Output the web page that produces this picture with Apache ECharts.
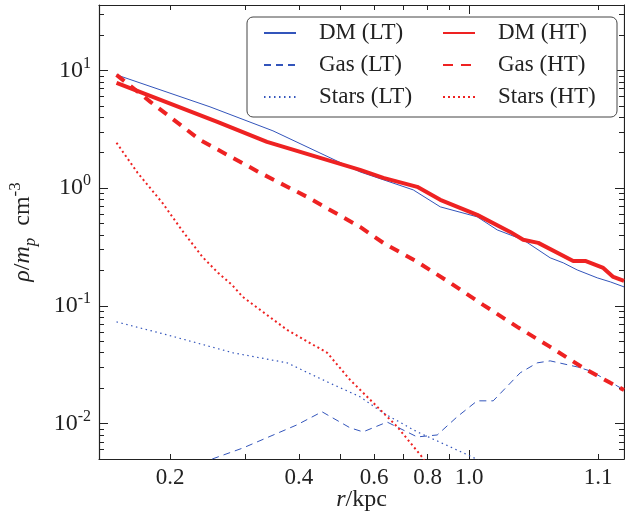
<!DOCTYPE html>
<html>
<head>
<meta charset="utf-8">
<script src="https://cdn.jsdelivr.net/npm/echarts@6/dist/echarts.min.js"></script>
<style>
    html, body { margin: 0; padding: 0; background: #fff; }
    #chart { width: 625px; height: 513px; }
</style>
</head>
<body>
<div id="chart"></div>
<script>
    // radius r (kpc), density rho / m_p cm^-3
    var dmLT = [[0.15, 9.18], [0.248, 4.91], [0.348, 3.07], [0.556, 1.375], [0.74, 0.967], [0.856, 0.694],
        [1.044, 0.571], [1.163, 0.442], [1.337, 0.364], [1.546, 0.256], [1.659, 0.232], [1.788, 0.202],
        [1.992, 0.173], [2.136, 0.160], [2.3, 0.145]];
    var gasLT = [[0.251, 0.005], [0.296, 0.0062], [0.396, 0.00975], [0.453, 0.0126], [0.527, 0.0092],
        [0.565, 0.0085], [0.643, 0.0103], [0.756, 0.0077], [0.842, 0.0080], [0.937, 0.0114], [1.044, 0.0156],
        [1.138, 0.0156], [1.316, 0.027], [1.442, 0.0328], [1.546, 0.0341], [1.788, 0.0303], [1.918, 0.028],
        [2.136, 0.0226], [2.3, 0.0193]];
    var starsLT = [[0.15, 0.0731], [0.197, 0.0567], [0.281, 0.0399], [0.3755, 0.0328], [0.466, 0.0226],
        [0.556, 0.0169], [0.63, 0.0123], [0.756, 0.0085], [0.903, 0.00634], [1.016, 0.0052], [1.05, 0.0049]];
    var dmHT = [[0.15, 7.85], [0.258, 3.66], [0.337, 2.47], [0.556, 1.43], [0.63, 1.223], [0.756, 1.026],
        [0.856, 0.796], [1.044, 0.593], [1.247, 0.425], [1.337, 0.364], [1.45, 0.343], [1.75, 0.241],
        [1.867, 0.241], [2.057, 0.210], [2.171, 0.176], [2.3, 0.163]];
    var gasHT = [[0.15, 9.18], [0.18, 5.41], [0.235, 2.57], [0.325, 1.349], [0.418, 0.843], [0.556, 0.469],
        [0.63, 0.343], [0.756, 0.2365], [0.903, 0.157], [1.078, 0.102], [1.295, 0.0663], [1.546, 0.0448],
        [1.847, 0.0297], [2.136, 0.0222], [2.3, 0.0193]];
    var starsHT = [[0.15, 2.43], [0.168, 1.35], [0.192, 0.75], [0.213, 0.442], [0.238, 0.261], [0.259, 0.191],
        [0.279, 0.151], [0.296, 0.119], [0.3755, 0.0625], [0.466, 0.0399], [0.527, 0.0235], [0.597, 0.0150],
        [0.679, 0.0094], [0.776, 0.0052], [0.785, 0.0049]];

    var xMajorTicks = [1.0];
    var xMinorTicks = [0.2, 0.3, 0.4, 0.5, 0.6, 0.7, 0.8, 0.9, 2.0];
    var xLabelValues = [0.2, 0.4, 0.6, 0.8, 1.0, 2.0];
    var xLabelTexts = ["0.2", "0.4", "0.6", "0.8", "1.0", "1.1"];
    var yMajorTicks = [0.01, 0.1, 1, 10];
    var yMinorTicks = [0.005, 0.006, 0.007, 0.008, 0.009, 0.02, 0.03, 0.04, 0.05, 0.06, 0.07, 0.08, 0.09,
        0.2, 0.3, 0.4, 0.5, 0.6, 0.7, 0.8, 0.9, 2, 3, 4, 5, 6, 7, 8, 9, 20, 30];

    var X_MIN = 0.1365, X_MAX = 2.30;
    var Y_MIN = 0.005, Y_MAX = 36;

    var BLUE = "#3355bb";
    var RED = "#ee2222";
    var INK = "#222";
    var FONT = "Liberation Serif";

    var chart = echarts.init(document.getElementById("chart"));

    function xAxisDef(pos, major, withLabels) {
        return {
            type: "log",
            min: X_MIN,
            max: X_MAX,
            position: pos,
            axisLine: { show: major, lineStyle: { color: INK, width: 1.2 } },
            axisTick: {
                show: true,
                inside: true,
                length: major ? 9 : 5,
                customValues: major ? xMajorTicks : xMinorTicks,
                lineStyle: { color: INK, width: 1 }
            },
            axisLabel: withLabels ? {
                show: true,
                customValues: xLabelValues,
                margin: 7,
                color: INK,
                fontFamily: FONT,
                fontSize: 23,
                formatter: function (v) {
                    var best = 0;
                    xLabelValues.forEach(function (t, i) {
                        if (Math.abs(t - v) < Math.abs(xLabelValues[best] - v)) best = i;
                    });
                    return xLabelTexts[best];
                }
            } : { show: false },
            splitLine: { show: false },
            minorTick: { show: false }
        };
    }

    function yAxisDef(pos, major, withLabels) {
        return {
            type: "log",
            min: Y_MIN,
            max: Y_MAX,
            position: pos,
            axisLine: { show: major, lineStyle: { color: INK, width: 1.2 } },
            axisTick: {
                show: true,
                inside: true,
                length: major ? 9 : 5,
                customValues: major ? yMajorTicks : yMinorTicks,
                lineStyle: { color: INK, width: 1 }
            },
            axisLabel: withLabels ? {
                show: true,
                customValues: yMajorTicks,
                margin: 8,
                color: INK,
                fontFamily: FONT,
                fontSize: 24,
                formatter: function (v) {
                    return "{b|10}{s|" + Math.round(Math.log10(v)) + "}";
                },
                rich: {
                    b: { fontFamily: FONT, fontSize: 24, color: INK, lineHeight: 30 },
                    s: { fontFamily: FONT, fontSize: 16, color: INK, lineHeight: 16, verticalAlign: "top" }
                }
            } : { show: false },
            splitLine: { show: false },
            minorTick: { show: false }
        };
    }

    var xs = [xAxisDef("bottom", true, true), xAxisDef("bottom", false, false),
        xAxisDef("top", true, false), xAxisDef("top", false, false)];
    xs[0].name = "{i|r}/kpc";
    xs[0].nameLocation = "middle";
    xs[0].nameGap = 29;
    xs[0].nameMoveOverlap = false;
    xs[0].nameTextStyle = {
        fontFamily: FONT, fontSize: 24, color: INK,
        rich: { i: { fontFamily: FONT, fontStyle: "italic", fontSize: 24, color: INK } }
    };

    var ys = [yAxisDef("left", true, true), yAxisDef("left", false, false),
        yAxisDef("right", true, false), yAxisDef("right", false, false)];
    ys[0].name = "{i|ρ}/{i|m}{sub|p}  cm{sup|-3}";
    ys[0].nameLocation = "middle";
    ys[0].nameRotate = 90;
    ys[0].nameGap = 60;
    ys[0].nameMoveOverlap = false;
    ys[0].nameTextStyle = {
        fontFamily: FONT, fontSize: 24, color: INK, lineHeight: 32,
        rich: {
            i: { fontFamily: FONT, fontStyle: "italic", fontSize: 24, color: INK, lineHeight: 32 },
            sub: { fontFamily: FONT, fontStyle: "italic", fontSize: 17, color: INK, lineHeight: 16, verticalAlign: "bottom" },
            sup: { fontFamily: FONT, fontSize: 17, color: INK, lineHeight: 16, verticalAlign: "top" }
        }
    };

    function line(name, data, color, width, type) {
        return {
            name: name,
            type: "line",
            data: data,
            xAxisIndex: 0,
            yAxisIndex: 0,
            showSymbol: false,
            symbol: "none",
            clip: true,
            lineStyle: { color: color, width: width, type: type },
            itemStyle: { color: color }
        };
    }

    var legendText = {
        fontFamily: FONT, fontSize: 23, color: INK, lineHeight: 24, padding: [0, 0, 0, 18]
    };

    function legendDef(names, left) {
        return {
            data: names,
            orient: "vertical",
            left: left,
            top: 21,
            padding: 0,
            itemWidth: 32,
            itemHeight: 14,
            itemGap: 8,
            selectedMode: false,
            itemStyle: { opacity: 0 },
            textStyle: legendText
        };
    }

    var option = {
        animation: false,
        backgroundColor: "#fff",
        grid: { left: 99, top: 5, right: 1, bottom: 54, containLabel: false, outerBoundsMode: "none" },
        xAxis: xs,
        yAxis: ys,
        graphic: [{
            type: "rect",
            z: 3,
            shape: { x: 247, y: 17, width: 370, height: 100, r: 6 },
            style: { fill: "#fff", stroke: "#444", lineWidth: 1 }
        }],
        legend: [
            legendDef(["DM (LT)", "Gas (LT)", "Stars (LT)"], 263),
            legendDef(["DM (HT)", "Gas (HT)", "Stars (HT)"], 442)
        ],
        series: [
            line("DM (LT)", dmLT, BLUE, 1, "solid"),
            line("Gas (LT)", gasLT, BLUE, 1, [7, 5]),
            line("Stars (LT)", starsLT, BLUE, 1.2, [1.5, 3.5]),
            line("DM (HT)", dmHT, RED, 4, "solid"),
            line("Gas (HT)", gasHT, RED, 4, [10, 8]),
            line("Stars (HT)", starsHT, RED, 2, [2, 3])
        ]
    };

    chart.setOption(option);
</script>
</body>
</html>
